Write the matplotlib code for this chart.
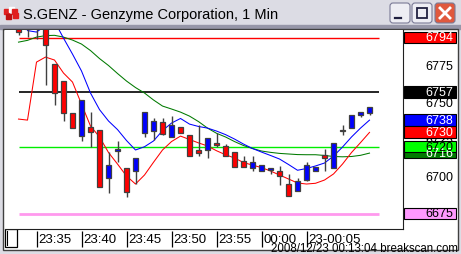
import numpy as np
import matplotlib
matplotlib.use("Agg")
import matplotlib.pyplot as plt
from matplotlib.patches import Rectangle, FancyBboxPatch

plt.rcParams['font.family'] = ['Liberation Sans', 'DejaVu Sans']

# Constants
W, H = 461, 255
TITLE = "S.GENZ - Genzyme Corporation, 1 Min"
STAMP = "2008/12/23 00:13:04 breakscan.com"

# 1 minute candles, 23:33 .. 00:12
opens = [6801.0, 6799.5, 6801.0, 6803.0, 6775.9, 6764.4, 6743.0, 6727.2, 6733.5, 6731.3,
         6699.3, 6717.5, 6705.6, 6704.0, 6729.3, 6731.0, 6736.7, 6727.0, 6733.3, 6728.3,
         6718.0, 6718.0, 6722.6, 6720.9, 6716.4, 6710.3, 6705.8, 6703.6, 6704.5, 6704.0,
         6695.0, 6690.5, 6697.7, 6704.0, 6714.6, 6705.6, 6731.5, 6732.6, 6741.6, 6742.8]
highs = [6802.0, 6802.0, 6803.0, 6804.0, 6775.9, 6764.4, 6743.0, 6752.0, 6743.6, 6731.3,
         6716.6, 6724.1, 6705.6, 6712.4, 6743.4, 6739.6, 6739.6, 6741.0, 6733.3, 6728.3,
         6735.0, 6726.1, 6729.5, 6722.0, 6716.4, 6714.1, 6714.1, 6707.8, 6705.6, 6707.4,
         6701.8, 6699.0, 6709.7, 6706.3, 6718.6, 6722.5, 6735.0, 6741.6, 6743.4, 6746.8]
lows = [6796.0, 6794.5, 6793.0, 6762.2, 6748.6, 6737.6, 6733.0, 6724.1, 6720.0, 6692.8,
        6689.1, 6710.1, 6686.4, 6695.0, 6727.0, 6724.9, 6728.3, 6727.0, 6729.3, 6713.7,
        6714.1, 6712.6, 6720.0, 6713.7, 6706.3, 6706.3, 6704.0, 6703.6, 6701.8, 6694.5,
        6687.1, 6690.5, 6696.8, 6704.0, 6703.6, 6705.6, 6728.3, 6732.6, 6740.5, 6741.6]
closes = [6797.5, 6799.5, 6801.5, 6788.9, 6756.7, 6743.2, 6733.0, 6752.0, 6730.1, 6692.8,
          6707.8, 6718.6, 6689.4, 6712.4, 6743.4, 6737.4, 6728.8, 6734.9, 6729.3, 6713.7,
          6716.1, 6726.1, 6721.6, 6713.7, 6706.3, 6706.3, 6709.7, 6707.8, 6705.6, 6700.2,
          6687.1, 6697.2, 6707.8, 6706.3, 6712.4, 6722.5, 6730.5, 6741.6, 6743.4, 6746.8]

# moving averages
ma_blue = [np.nan, 6798.7, 6797.7, 6802.0, 6805.0, 6793.6, 6782.8, 6771.4, 6756.5, 6745.3,
           6737.6, 6731.8, 6724.4, 6718.0, 6720.2, 6724.1, 6731.1, 6736.2, 6739.3, 6735.5,
           6733.9, 6732.8, 6730.8, 6728.4, 6725.4, 6722.0, 6719.0, 6716.6, 6714.3, 6711.9,
           6708.2, 6704.3, 6705.5, 6707.2, 6709.2, 6713.9, 6720.0, 6726.8, 6732.8, 6738.2]
ma_red = [6738.9, 6738.2, 6777.4, 6780.8, 6778.8, 6770.0, 6763.9, 6749.0, 6734.2, 6726.8,
          6716.3, 6708.5, 6700.4, 6695.0, 6701.1, 6709.7, 6718.0, 6723.7, 6727.4, 6725.1,
          6722.8, 6720.7, 6717.5, 6714.8, 6712.6, 6709.5, 6707.8, 6706.1, 6703.8, 6701.1,
          6698.4, 6695.7, 6695.0, 6695.5, 6697.7, 6701.8, 6708.5, 6716.3, 6723.0, 6729.9]
ma_green = [6790.9, 6792.1, 6794.3, 6795.3, 6795.5, 6794.3, 6792.3, 6789.6, 6785.2, 6779.8,
            6775.1, 6769.7, 6764.6, 6760.2, 6756.5, 6751.8, 6747.7, 6745.7, 6743.6, 6740.9,
            6737.2, 6732.8, 6729.3, 6726.8, 6723.7, 6721.0, 6719.0, 6717.3, 6716.4, 6715.7,
            6715.3, 6714.9, 6714.8, 6714.8, 6714.3, 6713.6, 6713.4, 6713.6, 6714.4, 6715.9]

# horizontal levels
level_prices = [6794, 6757, 6720, 6675]
level_colors = ["#ff0000", "#000000", "#00ee00", "#ff99ee"]
level_widths = [1.0, 1.2, 1.0, 2.0]

# price markers on the right scale (drawn in this order)
marker_prices = [6794, 6757, 6738, 6730, 6716, 6720, 6675]
marker_colors = ["#ff0000", "#000000", "#0000ff", "#ff0000", "#007a00", "#00ff00", "#ff99ff"]
marker_text = ["white", "white", "white", "white", "white", "black", "black"]

price_ticks = [6775, 6750, 6725, 6700, 6675]
time_ticks = [2, 7, 12, 17, 22, 27, 32]
time_labels = ["23:35", "23:40", "23:45", "23:50", "23:55", "00:00", "23-00:05"]

PRICE_TOP, PRICE_BOTTOM = 6799.1, 6664.6
X_LEFT, X_RIGHT = -1.5, 42.72


def box(x0, y0, x1, y1):
    return [x0 / W, 1 - y1 / H, (x1 - x0) / W, (y1 - y0) / H]


fig = plt.figure(figsize=(W / 100, H / 100), dpi=100)

# window chrome
bg = fig.add_axes([0, 0, 1, 1])
bg.set_xlim(0, W)
bg.set_ylim(H, 0)
bg.axis("off")
bg.add_patch(Rectangle((0, 0), W, H, color="#dcdce4"))
grad = np.linspace(0, 1, 64)[:, None]
bg.imshow(grad, cmap=matplotlib.colors.LinearSegmentedColormap.from_list(
    "t", ["#fdfdff", "#ececf2", "#d2d2dc", "#b4b4c4"]), extent=(0, W, 26, 0), aspect="auto")
bg.add_patch(Rectangle((0, 26), W, 4, color="#9696a8"))
bg.add_patch(Rectangle((3, 30), 455, 221, facecolor="white", edgecolor="#404040", lw=1))
# icon
for (ix, iy, c) in [(4, 10, "#e02020"), (9, 8, "#ffffff"), (12, 10, "#e02020"), (6, 15, "#c01010"), (13, 14, "#e02020")]:
    bg.add_patch(Rectangle((ix, iy), 5, 5, color=c))
bg.text(23, 15.5, TITLE, fontsize=10.5, va="center", ha="left", color="black")
# buttons
for bx, face in [(390, "#eeeef4"), (412, "#eeeef4"), (435, "#e0593e")]:
    bg.add_patch(FancyBboxPatch((bx, 4), 20, 20, boxstyle="round,pad=0,rounding_size=3",
                                facecolor=face, edgecolor="#7a7a96", lw=0.8))
bg.plot([395, 401], [19, 19], color="#202040", lw=1.6)
bg.add_patch(Rectangle((417, 9), 10, 10, fill=False, edgecolor="#202040", lw=1.3))
bg.plot([440, 450], [9, 19], color="white", lw=2)
bg.plot([440, 450], [19, 9], color="white", lw=2)
# small box at bottom left of time scale
bg.add_patch(Rectangle((5, 230), 12, 18, fill=False, edgecolor="black", lw=0.9))
bg.plot([7, 7], [232, 246], color="black", lw=0.8)
bg.text(458, 249, STAMP, fontsize=8.3, ha="right", va="center", color="black")

# price chart
ax = fig.add_axes(box(5, 31, 403, 230))
ax.set_xlim(X_LEFT, X_RIGHT)
ax.set_ylim(PRICE_BOTTOM, PRICE_TOP)
ax.set_facecolor("white")
for s in ["left", "top"]:
    ax.spines[s].set_visible(False)
ax.spines["right"].set_color("#202020")
ax.spines["bottom"].set_color("#202020")
ax.set_xticks([])
ax.set_yticks([])

x = np.arange(len(opens))
o = np.array(opens)
c = np.array(closes)
for p, col, lw in zip(level_prices, level_colors, level_widths):
    ax.hlines(p, x[0] + 0.05, x[-1] + 1.05, color=col, lw=lw, zorder=1)
ax.plot(x, ma_green, color="#007a00", lw=0.75, zorder=2)
ax.plot(x, ma_red, color="#ff0000", lw=0.75, zorder=2)
ax.plot(x, ma_blue, color="#0000ff", lw=0.75, zorder=2)
ax.vlines(x, lows, highs, color="#404040", lw=1.0, zorder=3)
body_colors = np.where(c >= o, "#0000ff", "#ff0000")
ax.bar(x, np.maximum(np.abs(c - o), 0.4), bottom=np.minimum(o, c), width=0.5,
       color=body_colors, edgecolor="#404040", lw=0.9, zorder=4)

# time scale
tx = fig.add_axes(box(5, 230, 403, 250))
tx.set_xlim(X_LEFT, X_RIGHT)
tx.set_ylim(1, 0)
tx.axis("off")
tx.vlines(time_ticks, 0.08, 0.9, color="black", lw=0.9)
for t, lab in zip(time_ticks, time_labels):
    tx.text(t + 0.2, 0.5, lab, fontsize=9.5, ha="left", va="center")

# price scale
px = fig.add_axes(box(403, 31, 457, 230))
px.set_xlim(403, 457)
px.set_ylim(PRICE_BOTTOM, PRICE_TOP)
px.axis("off")
for p in price_ticks:
    px.text(453, p, str(p), fontsize=9, ha="right", va="center", zorder=1)
for p, col, tc in zip(marker_prices, marker_colors, marker_text):
    px.add_patch(Rectangle((404, p - 3.6), 52, 7.6, facecolor=col, edgecolor="black", lw=0.8, zorder=2))
    px.text(453, p + 0.2, str(p), fontsize=9, ha="right", va="center", color=tc, zorder=3)

fig.savefig("out.png", dpi=100)
